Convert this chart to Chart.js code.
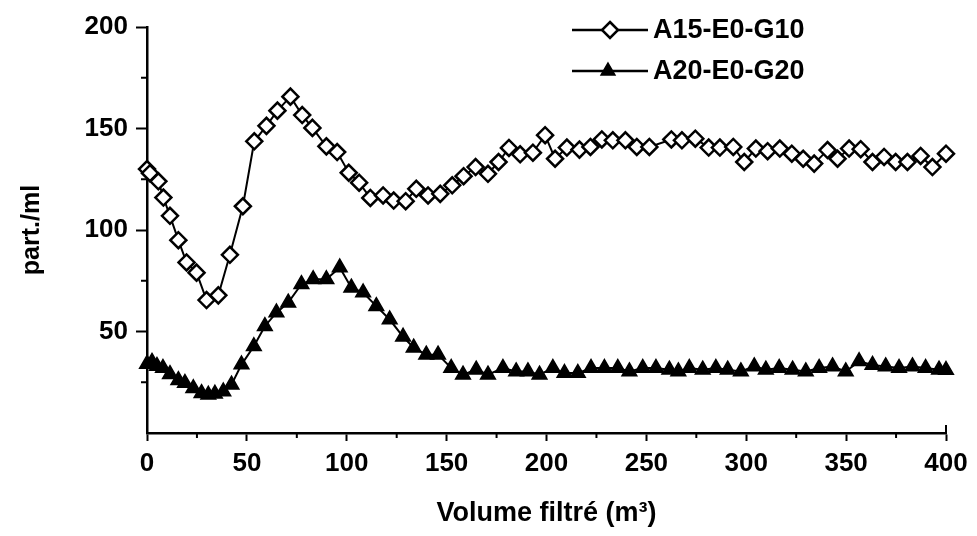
<!DOCTYPE html>
<html>
<head>
<meta charset="utf-8">
<script src="https://cdn.jsdelivr.net/npm/chart.js@4/dist/chart.umd.min.js"></script>
<style>
  html, body { margin: 0; padding: 0; background: #fff; }
  #wrap { width: 977px; height: 536px; }
</style>
</head>
<body>
<div id="wrap"><canvas id="chart" width="977" height="536"></canvas></div>
<script>
// series labels
const seriesNames = ["A15-E0-G10", "A20-E0-G20"];

// A15-E0-G10 (diamonds)
const volA = [0, 1.5, 5.7, 8.2, 11.5, 15.7, 19.8, 24.8, 29.8, 35.7, 41.5, 48, 53.7, 59.8, 65.3, 71.8,
  77.7, 82.8, 89.8, 95.2, 101, 106.2, 111.8, 118.2, 123.5, 129.5, 134.8, 140.7, 146.8, 152.8, 158.5,
  164.5, 170.7, 176, 181.2, 186.8, 193.2, 199.3, 204.3, 210.2, 216.5, 222, 227.7, 233.2, 239.5, 245.2,
  251.5, 262.5, 267.8, 274.5, 281.2, 286.8, 293.5, 299, 304.8, 310.7, 316.8, 322.8, 328.5, 334, 340.7,
  345.7, 351.5, 357.3, 363.2, 369, 374.8, 380.7, 387.3, 393.2, 400];
const partA = [130, 128, 124, 116, 107, 95, 84, 79, 65.5, 67.8, 87.8, 111.7, 143.7, 151.3, 158.8, 165.7,
  156.6, 150.3, 141.2, 138.4, 128.2, 123.3, 115.8, 117, 114.5, 114.2, 120.3, 117, 117.8, 122, 126.5,
  131, 127.7, 133.5, 140.4, 137.3, 138.1, 146.7, 135.1, 140.6, 139.6, 140.9, 144.6, 144.2, 144.2, 140.9,
  140.9, 144.6, 144.2, 145, 140.6, 140.6, 140.9, 133.5, 140.1, 138.8, 140.1, 137.6, 135.1, 132.7, 139.4,
  135.1, 140.1, 139.8, 133.5, 136, 133.5, 133.5, 136.5, 131, 137.6];

// A20-E0-G20 (triangles)
const volB = [0, 2.5, 5, 8, 11.5, 15.7, 19, 23.2, 27.3, 30.7, 34, 38.2, 42.3, 47.3, 53.5, 59, 64.8,
  70.7, 77.3, 83.2, 89.8, 96.5, 102.3, 108.2, 114.8, 121.5, 128.2, 133.5, 139.8, 145.7, 152.3, 158.2,
  164.8, 170.7, 178.2, 184.8, 190.7, 196.5, 203.2, 209, 215.7, 222.3, 229, 235.7, 241.5, 248.2, 254.8,
  261.5, 266, 271.5, 278.2, 284.8, 290.7, 297.3, 304, 309.8, 316.5, 323.2, 329.8, 336.5, 343.2, 349.8,
  356.5, 363.2, 369.8, 376.5, 383.2, 389.8, 396.5, 400];
const partB = [34, 35, 33, 32, 29, 26, 24.6, 22, 19.6, 18.8, 19.3, 20.4, 23.8, 33.7, 42.7, 52.6, 59.3,
  64.2, 73.3, 75.7, 75.7, 81.5, 71.6, 69.2, 62.5, 55.9, 47.4, 42, 38.6, 38.6, 32, 28.7,
  31.2, 28.7, 32, 30.3, 30.3, 28.7, 32, 29.5, 29.5, 32, 32, 32, 30.3, 32, 32,
  31.2, 30.3, 32, 31.2, 32, 31.2, 30.3, 32.8, 31.2, 32, 31.2, 30.3, 32, 32.8, 30.3,
  35.3, 33.5, 32.8, 32, 32.8, 32, 31.2, 31];

const xTicks = [0, 50, 100, 150, 200, 250, 300, 350, 400];
const yTicks = [50, 100, 150, 200];

const FONT = "'Liberation Sans', Arial, sans-serif";

function toPoints(xs, ys) {
  return xs.map((x, i) => ({ x: x, y: ys[i] }));
}

function drawDiamond(ctx, x, y, r) {
  ctx.beginPath();
  ctx.moveTo(x, y - r);
  ctx.lineTo(x + r, y);
  ctx.lineTo(x, y + r);
  ctx.lineTo(x - r, y);
  ctx.closePath();
  ctx.fillStyle = "#fff";
  ctx.fill();
  ctx.lineWidth = 2.5;
  ctx.strokeStyle = "#000";
  ctx.stroke();
}

function drawTriangle(ctx, x, y, r) {
  const h = Math.sqrt(3) / 2 * r;
  ctx.beginPath();
  ctx.moveTo(x, y - r);
  ctx.lineTo(x + h, y + r / 2);
  ctx.lineTo(x - h, y + r / 2);
  ctx.closePath();
  ctx.fillStyle = "#000";
  ctx.fill();
  ctx.lineWidth = 1.5;
  ctx.strokeStyle = "#000";
  ctx.stroke();
}

// minor ticks, axis end mark and legend drawn by hand
const extras = {
  id: "extras",
  afterDraw(chart) {
    const ctx = chart.ctx;
    const xs = chart.scales.x;
    const ys = chart.scales.y;
    ctx.save();
    ctx.strokeStyle = "#000";
    ctx.lineWidth = 2;
    for (let v = 25; v < 400; v += 50) {
      const px = xs.getPixelForValue(v);
      ctx.beginPath();
      ctx.moveTo(px, ys.bottom);
      ctx.lineTo(px, ys.bottom + 5);
      ctx.stroke();
    }
    for (let v = 25; v < 200; v += 50) {
      const py = ys.getPixelForValue(v);
      ctx.beginPath();
      ctx.moveTo(xs.left, py);
      ctx.lineTo(xs.left - 6, py);
      ctx.stroke();
    }
    // small upward mark at the right end of the x axis
    ctx.beginPath();
    ctx.moveTo(xs.right, ys.bottom);
    ctx.lineTo(xs.right, ys.bottom - 8);
    ctx.stroke();

    // legend
    const rows = [
      { y: 30, mark: drawDiamond, mx: 610 },
      { y: 71, mark: drawTriangle, mx: 608 }
    ];
    ctx.font = "bold 27px " + FONT;
    ctx.textBaseline = "middle";
    ctx.textAlign = "left";
    rows.forEach((row, i) => {
      ctx.strokeStyle = "#000";
      ctx.lineWidth = 2.5;
      ctx.beginPath();
      ctx.moveTo(572, row.y);
      ctx.lineTo(648, row.y);
      ctx.stroke();
      row.mark(ctx, row.mx, row.y, 8);
      ctx.fillStyle = "#000";
      ctx.fillText(seriesNames[i], 653, row.y + 1);
    });
    ctx.restore();
  }
};

const tickFont = { family: FONT, size: 26, weight: "bold" };

new Chart(document.getElementById("chart"), {
  type: "line",
  data: {
    datasets: [
      {
        label: seriesNames[0],
        data: toPoints(volA, partA),
        borderColor: "#000",
        borderWidth: 2,
        pointStyle: "rectRot",
        pointRadius: 8,
        pointBackgroundColor: "#fff",
        pointBorderColor: "#000",
        pointBorderWidth: 2.5,
        tension: 0,
        clip: false
      },
      {
        label: seriesNames[1],
        data: toPoints(volB, partB),
        borderColor: "#000",
        borderWidth: 2,
        pointStyle: "triangle",
        pointRadius: 8.5,
        pointBackgroundColor: "#000",
        pointBorderColor: "#000",
        pointBorderWidth: 1.5,
        tension: 0,
        clip: false
      }
    ]
  },
  options: {
    responsive: false,
    animation: false,
    layout: {
      padding: { top: 27, right: 31, left: 0, bottom: 0 }
    },
    plugins: {
      legend: { display: false },
      tooltip: { enabled: false }
    },
    scales: {
      x: {
        type: "linear",
        min: 0,
        max: 400,
        afterFit: scale => { scale.height = 103; },
        afterBuildTicks: scale => { scale.ticks = xTicks.map(v => ({ value: v })); },
        ticks: {
          color: "#000",
          font: tickFont,
          padding: 7,
          maxRotation: 0,
          callback: v => v
        },
        grid: {
          drawOnChartArea: false,
          tickLength: 8,
          tickWidth: 2,
          tickColor: "#000"
        },
        border: { color: "#000", width: 2.5 },
        title: {
          display: true,
          text: "Volume filtré (m³)",
          color: "#000",
          font: { family: FONT, size: 27, weight: "bold" },
          padding: { top: 0, bottom: 6 }
        }
      },
      y: {
        min: 0,
        max: 200,
        afterFit: scale => { scale.width = 147; },
        afterBuildTicks: scale => { scale.ticks = yTicks.map(v => ({ value: v })); },
        ticks: {
          color: "#000",
          font: tickFont,
          padding: 8,
          callback: v => v
        },
        grid: {
          drawOnChartArea: false,
          tickLength: 11,
          tickWidth: 2,
          tickColor: "#000"
        },
        border: { color: "#000", width: 2.5 },
        title: {
          display: true,
          text: "part./ml",
          color: "#000",
          font: { family: FONT, size: 25, weight: "bold" },
          padding: { top: 17, bottom: 0 }
        }
      }
    }
  },
  plugins: [extras]
});
</script>
</body>
</html>
